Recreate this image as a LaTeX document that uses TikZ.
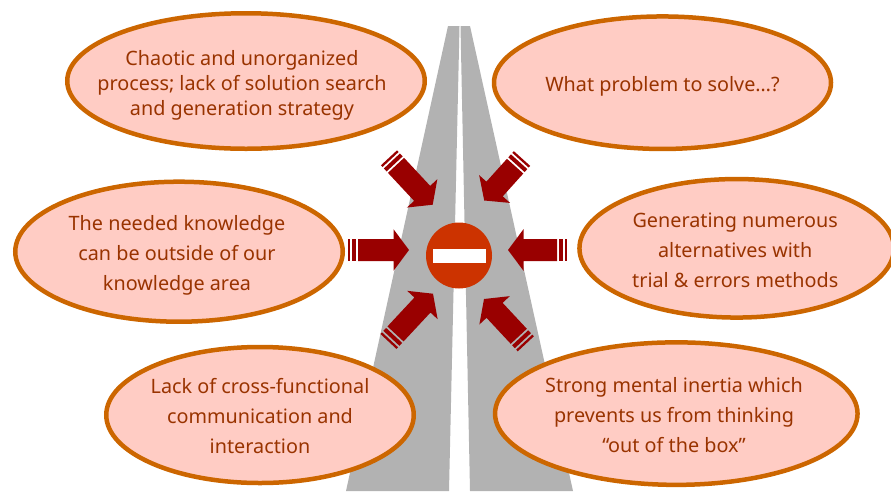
\documentclass[tikz,border=0pt]{standalone}
\usepackage{fontspec}
\setmainfont{Noto Sans}
\usetikzlibrary{shapes.geometric}
\definecolor{issuedrawcolor}{HTML}{CC6600}
\definecolor{issuefillcolor}{HTML}{FFCCC4}
\definecolor{issuetextcolor}{HTML}{993300}
\definecolor{roadfillcolor}{HTML}{B2B2B2}
\definecolor{signfillcolor}{HTML}{CC3300}
\definecolor{arrowfillcolor}{HTML}{990000}
\def\issuelinewidth{4.5pt}
\def\signdiameter{66pt}
\def\barheight{14pt}
\def\barwidth{53pt}
\tikzset{
	% problem ellipses
	issue/.style={
		draw=issuedrawcolor,
		fill=issuefillcolor,
		line width=\issuelinewidth,
		shape=ellipse,
		inner sep=0pt,
		outer sep=0pt,
	},
	% problem texts
	issue_text/.style={
		text=issuetextcolor,
		align=center,
		inner sep=0pt,
		font=\fontsize{19.8}{30}\selectfont,
	},
	% road lanes
	lane/.style={
		fill=roadfillcolor,
	},
	% no entry sign
	sign/.style={
		fill=signfillcolor,
		shape=circle,
		inner sep=0pt,
		outer sep=0pt,
		minimum size=\signdiameter,
	},
	sign_bar/.style={
		fill=white,
		shape=rectangle,
		inner sep=0pt,
		outer sep=0pt,
		minimum height=\barheight,
		minimum width=\barwidth,
	},
	% block arrow with tip at the origin, argument is the length of its shaft
	pics/stop_arrow/.style={
		code={
			\fill[arrowfillcolor] (0,0) -- (-15.5,20.8) -- (-15.5,11) -- (-#1,11)
				-- (-#1,-11) -- (-15.5,-11) -- (-15.5,-20.8) -- cycle;
			\fill[arrowfillcolor] (-#1-2,11) rectangle (-#1-6,-11);
			\fill[arrowfillcolor] (-#1-8,11) rectangle (-#1-10.3,-11);
		}
	},
}
\begin{document}
\begin{tikzpicture}[x=1pt,y=-1pt]
	\useasboundingbox (0,0) rectangle (891,491);
	% road
	\fill[lane] (448,26) -- (459.5,26) -- (449,491) -- (346,491) -- cycle;
	\fill[lane] (460.5,26) -- (470,26) -- (573,491) -- (470,491) -- cycle;
	% problems
	\node[
		issue,
		minimum width=357.5pt,
		minimum height=135.5pt
	] (chaotic) at (246,81) {};
	%
	\node[
		issue_text,
		font=\fontsize{19.8}{25}\selectfont,
		xshift=-4pt,
		yshift=-4.5pt
	] (chaotic_text) at (chaotic.center) {Chaotic and unorganized\\process; lack of solution search\\and generation strategy};
	%
	\node[
		issue,
		minimum width=337pt,
		minimum height=132.5pt
	] (what_problem) at (662.5,82.7) {};
	%
	\node[
		issue_text,
		yshift=-3.5pt
	] (what_problem_text) at (what_problem.center) {What problem to solve…?};
	%
	\node[
		issue,
		minimum width=327.5pt,
		minimum height=140pt
	] (knowledge) at (179,251.7) {};
	%
	\node[
		issue_text,
		xshift=-2pt,
		yshift=-3.3pt
	] (knowledge_text) at (knowledge.center) {The needed knowledge\\can be outside of our\\knowledge area};
	%
	\node[
		issue,
		minimum width=314.5pt,
		minimum height=138.5pt
	] (trial) at (736.7,248.3) {};
	%
	\node[
		issue_text,
		xshift=-1.5pt,
		yshift=-1.5pt
	] (trial_text) at (trial.center) {Generating numerous\\alternatives with\\trial \& errors methods};
	%
	\node[
		issue,
		minimum width=307.5pt,
		minimum height=136pt
	] (communication) at (260,415) {};
	%
	\node[
		issue_text,
		yshift=-1pt
	] (communication_text) at (communication.center) {Lack of cross-functional\\communication and\\interaction};
	%
	\node[
		issue,
		minimum width=362.5pt,
		minimum height=142.5pt
	] (inertia) at (676.3,413.6) {};
	%
	\node[
		issue_text,
		xshift=-2.3pt,
		yshift=-1.5pt
	] (inertia_text) at (inertia.center) {Strong mental inertia which\\prevents us from thinking\\“out of the box”};
	% sign
	\node[
		sign
	] (stop_sign) at (459,255.5) {};
	%
	\node[
		sign_bar
	] (stop_bar) at (stop_sign.center) {};
	% arrows
	\pic[rotate=-47] (arrow_nw) at (432.7,204.7) {stop_arrow=53.8};
	\pic[rotate=228] (arrow_ne) at (484.2,200.5) {stop_arrow=46.2};
	\pic (arrow_w) at (409,250) {stop_arrow=51};
	\pic[rotate=180] (arrow_e) at (508,250) {stop_arrow=49};
	\pic[rotate=47] (arrow_sw) at (433,293.7) {stop_arrow=55};
	\pic[rotate=133] (arrow_se) at (484,299) {stop_arrow=51};
\end{tikzpicture}
\end{document}
